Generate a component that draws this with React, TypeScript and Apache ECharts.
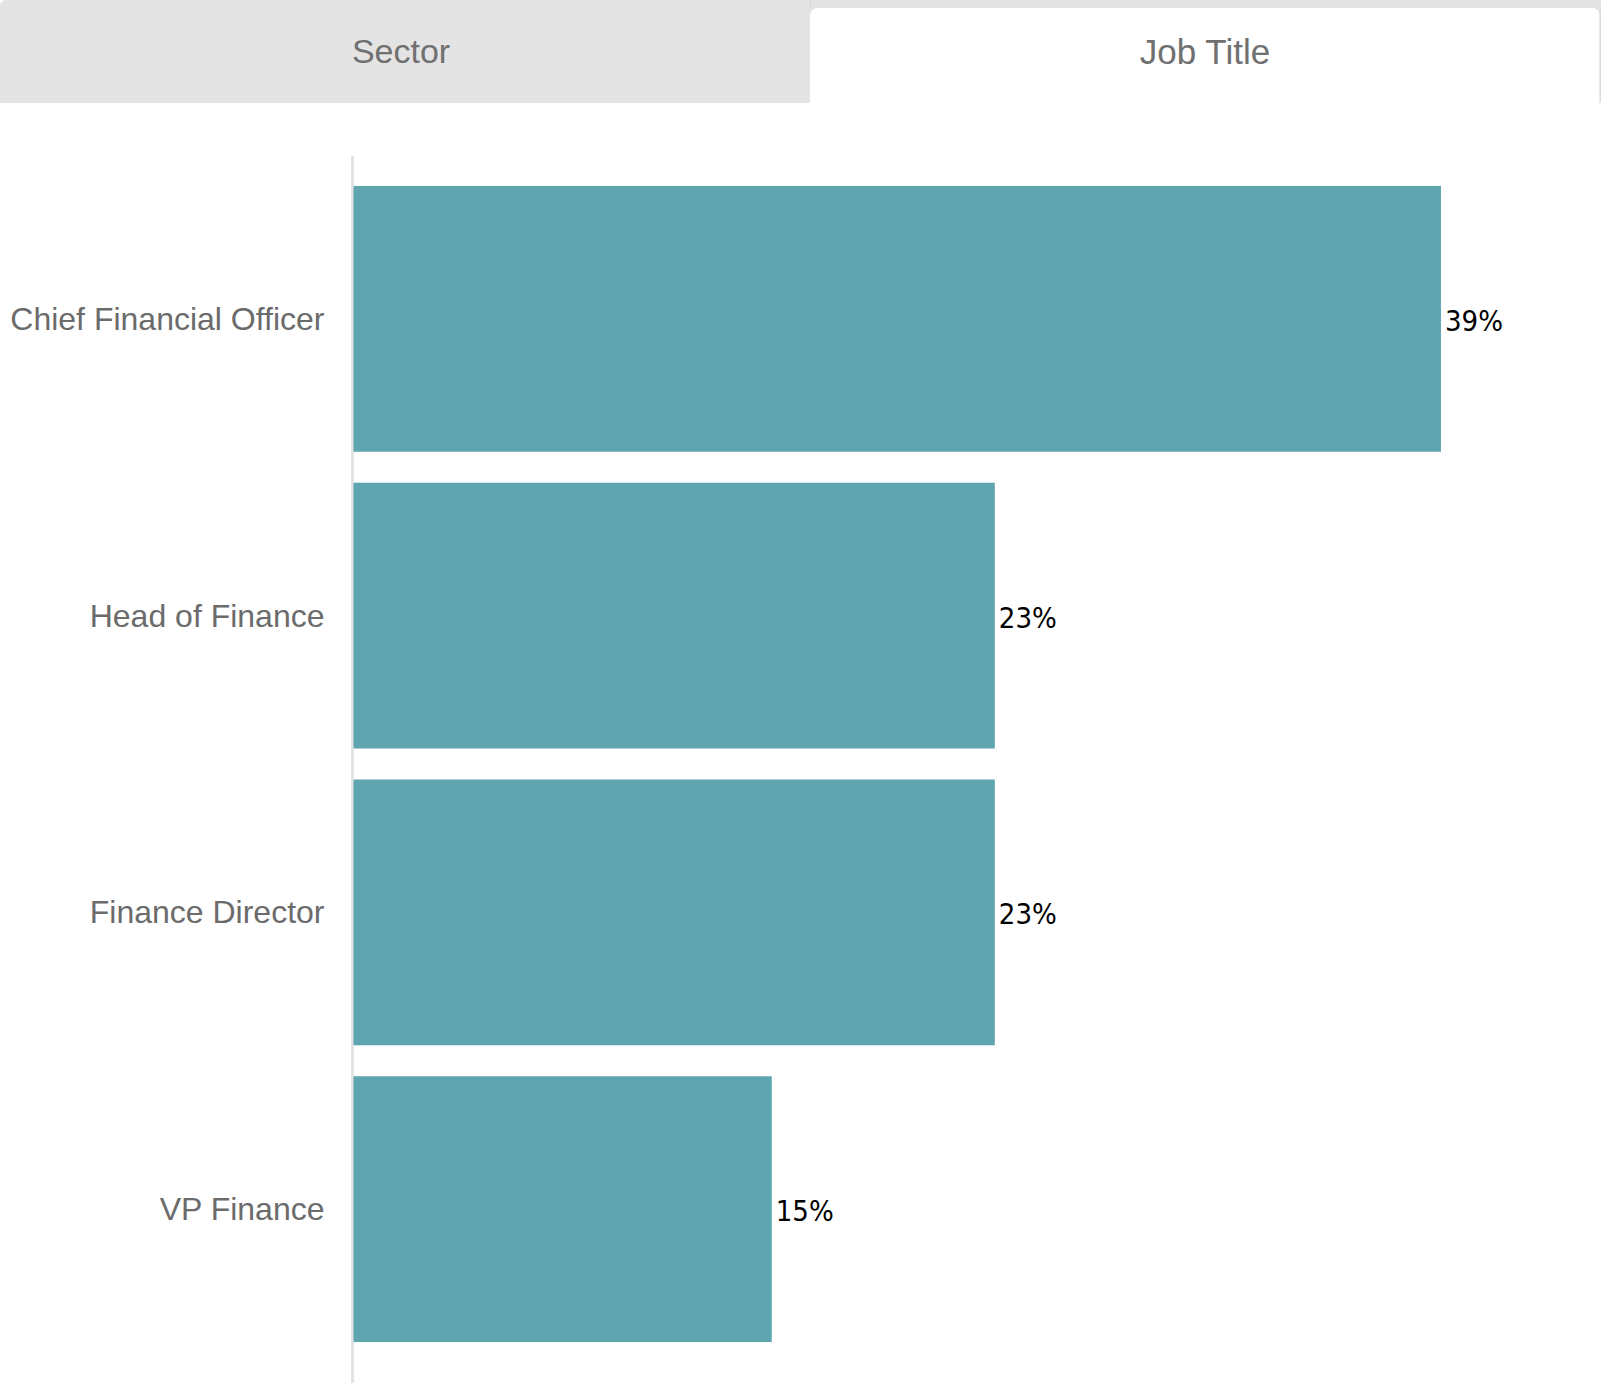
import React, { useEffect, useRef } from "react";
import * as echarts from "echarts";

const categories: string[] = ["Chief Financial Officer", "Head of Finance", "Finance Director", "VP Finance"];
const values: number[] = [39, 23, 23, 15];
const tabLabels: string[] = ["Sector", "Job Title"];

export default function App() {
  const ref = useRef<HTMLDivElement>(null);
  useEffect(() => {
    document.body.style.margin = "0";
    const chart = echarts.init(ref.current!, null, { renderer: "svg" });
    chart.setOption({
      animation: false,
      backgroundColor: "#ffffff",
      grid: { left: 353.5, top: 170.5, bottom: 25.5, right: 20.6, containLabel: false },
      xAxis: {
        type: "value",
        min: 0,
        max: 44,
        show: false,
        splitLine: { show: false },
      },
      yAxis: {
        type: "category",
        data: categories,
        inverse: true,
        axisLine: { show: false },
        axisTick: { show: false },
        axisLabel: {
          margin: 29,
          color: "#6b6b6b",
          fontFamily: "'Liberation Sans', Arial, sans-serif",
          fontSize: 32,
        },
      },
      series: [
        {
          type: "bar",
          data: values,
          barCategoryGap: "10.4%",
          itemStyle: { color: "#5fa5b0" },
          label: {
            show: true,
            position: "right",
            distance: 4,
            offset: [0, 2],
            formatter: "{c}%",
            color: "#000000",
            fontFamily: "'DejaVu Sans Condensed', sans-serif",
            fontSize: 29,
          },
          z: 3,
        },
      ],
      graphic: [
        { type: "rect", shape: { x: 0, y: 0, width: 1601, height: 103, r: [6, 0, 0, 0] }, style: { fill: "#e4e4e4" }, z: 1 },
        { type: "rect", shape: { x: 810, y: 8, width: 790, height: 95, r: [8, 8, 0, 0] }, style: { fill: "#ffffff" }, z: 2 },
        { type: "line", shape: { x1: 1600, y1: 10, x2: 1600, y2: 103 }, style: { stroke: "#d4d4d4", lineWidth: 1 }, z: 3 },
        { type: "line", shape: { x1: 810.5, y1: 0, x2: 810.5, y2: 8 }, style: { stroke: "#d4d4d4", lineWidth: 1 }, z: 3 },
        {
          type: "text",
          x: 401,
          y: 51,
          style: { text: tabLabels[0], fill: "#707070", font: "34px 'Liberation Sans', Arial, sans-serif", textAlign: "center", textVerticalAlign: "middle" },
          z: 4,
        },
        {
          type: "text",
          x: 1205,
          y: 51,
          style: { text: tabLabels[1], fill: "#707070", font: "35px 'Liberation Sans', Arial, sans-serif", textAlign: "center", textVerticalAlign: "middle" },
          z: 4,
        },
        { type: "line", shape: { x1: 352.5, y1: 156, x2: 352.5, y2: 1383 }, style: { stroke: "#e3e3e3", lineWidth: 3 }, z: 0 },
      ],
    });
    return () => chart.dispose();
  }, []);
  return <div ref={ref} style={{ position: "absolute", left: 0, top: 0, width: 1601, height: 1383 }} />;
}
